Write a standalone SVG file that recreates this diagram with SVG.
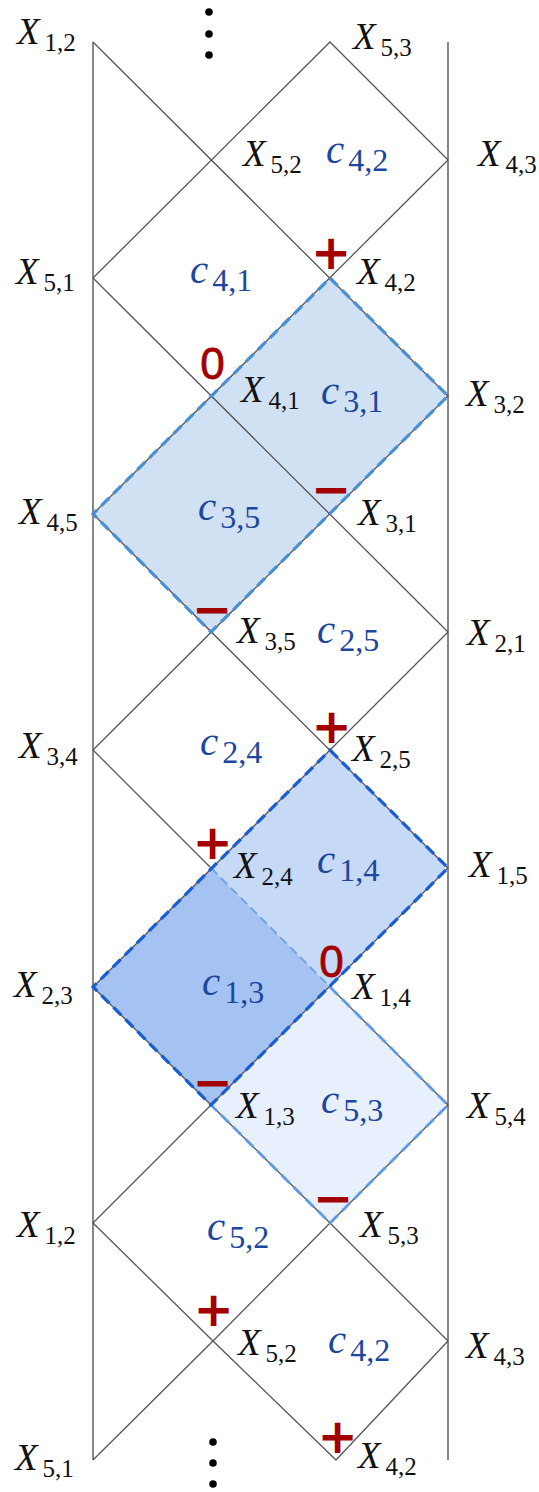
<svg xmlns="http://www.w3.org/2000/svg" width="539" height="1492" viewBox="0 0 539 1492">
<style>
.bd{fill:none;stroke:#6a6a6a;stroke-width:1.6}
.ln{fill:none;stroke:#555;stroke-width:1.3;stroke-linejoin:miter}
.x{font-family:"Liberation Serif",serif;font-size:37px;font-style:italic;fill:#111}
.xs{font-style:normal;font-size:25px}
.c{font-family:"Liberation Serif",serif;font-size:41px;font-style:italic;fill:#1c469f}
.cs{font-style:normal;font-size:32px}
.pm{font-family:"DejaVu Sans",sans-serif;font-weight:bold;font-size:48px;fill:#a30000;text-anchor:middle;dominant-baseline:central}
.z{font-family:"Liberation Sans",sans-serif;font-size:44px;fill:#a30000;stroke:#a30000;stroke-width:0.8;text-anchor:middle;dominant-baseline:central}
.dot{fill:#000}
</style>
<rect width="539" height="1492" fill="#fff"/>
<g id="regions">
<polygon id="r35" points="330,278 448,396 211,632 93,514" fill="#cfe1f3"/>
<polygon id="r14" points="330,750 448,868 330,987 211,868" fill="#c6d9f6"/>
<polygon id="r13" points="211,868 330,987 211,1105 93,987" fill="#a5c3f2"/>
<polygon id="r53" points="330,987 448,1105 330,1223 211,1105" fill="#e8f0fd"/>
</g>
<g id="connectors">
<line class="bd" x1="93" y1="42" x2="93" y2="1460"/>
<line class="bd" x1="448" y1="42" x2="448" y2="1460"/>
<polyline class="ln" points="93,42 448,396 93,750 211,868"/>
<polyline class="ln" points="330,987 448,1105 330,1223 213,1341 93,1460"/>
<polyline class="ln" points="93,278 330,42 448,160 93,514 448,868 93,1223 213,1341 336,1460 448,1341 330,1223 211,1105 93,987 448,632 93,278"/>
<polygon points="330,278 448,396 211,632 93,514" fill="none" stroke="#4a8ed4" stroke-width="3.2" stroke-dasharray="11 6"/>
<line x1="211" y1="868" x2="330" y2="987" stroke="#6fa0ea" stroke-width="1.8" stroke-dasharray="9 5"/>
<polyline points="330,987 448,1105 330,1223 211,1105" fill="none" stroke="#5f9ae6" stroke-width="2.8" stroke-dasharray="11 6"/>
<polygon points="330,750 448,868 211,1105 93,987" fill="none" stroke="#1a5cd2" stroke-width="3.2" stroke-dasharray="11 6"/>
</g>
<g id="dots">
<circle class="dot" cx="209" cy="12" r="3.8"/>
<circle class="dot" cx="209" cy="34" r="3.8"/>
<circle class="dot" cx="209" cy="55" r="3.8"/>
<circle class="dot" cx="213" cy="1442" r="3.8"/>
<circle class="dot" cx="213" cy="1463" r="3.8"/>
<circle class="dot" cx="213" cy="1484" r="3.8"/>
</g>
<g id="vertex-labels">
<text id="n-x12a" class="x" x="17" y="44">X<tspan class="xs" dx="5" dy="7">1,2</tspan></text>
<text id="n-x53a" class="x" x="353" y="49">X<tspan class="xs" dx="5" dy="7">5,3</tspan></text>
<text id="n-x52a" class="x" x="243" y="166">X<tspan class="xs" dx="5" dy="7">5,2</tspan></text>
<text id="n-x43a" class="x" x="478" y="166">X<tspan class="xs" dx="5" dy="7">4,3</tspan></text>
<text id="n-x51a" class="x" x="16" y="284">X<tspan class="xs" dx="5" dy="7">5,1</tspan></text>
<text id="n-x42a" class="x" x="357" y="284">X<tspan class="xs" dx="5" dy="7">4,2</tspan></text>
<text id="n-x41" class="x" x="241" y="402">X<tspan class="xs" dx="5" dy="7">4,1</tspan></text>
<text id="n-x32" class="x" x="466" y="406">X<tspan class="xs" dx="5" dy="7">3,2</tspan></text>
<text id="n-x45" class="x" x="19" y="524">X<tspan class="xs" dx="5" dy="7">4,5</tspan></text>
<text id="n-x31" class="x" x="358" y="525">X<tspan class="xs" dx="5" dy="7">3,1</tspan></text>
<text id="n-x35" class="x" x="237" y="643">X<tspan class="xs" dx="5" dy="7">3,5</tspan></text>
<text id="n-x21" class="x" x="467" y="645">X<tspan class="xs" dx="5" dy="7">2,1</tspan></text>
<text id="n-x34" class="x" x="19" y="758">X<tspan class="xs" dx="5" dy="7">3,4</tspan></text>
<text id="n-x25" class="x" x="352" y="761">X<tspan class="xs" dx="5" dy="7">2,5</tspan></text>
<text id="n-x24" class="x" x="234" y="878">X<tspan class="xs" dx="5" dy="7">2,4</tspan></text>
<text id="n-x15" class="x" x="469" y="877">X<tspan class="xs" dx="5" dy="7">1,5</tspan></text>
<text id="n-x23" class="x" x="14" y="997">X<tspan class="xs" dx="5" dy="7">2,3</tspan></text>
<text id="n-x14" class="x" x="352" y="999">X<tspan class="xs" dx="5" dy="7">1,4</tspan></text>
<text id="n-x13" class="x" x="236" y="1118">X<tspan class="xs" dx="5" dy="7">1,3</tspan></text>
<text id="n-x54" class="x" x="467" y="1118">X<tspan class="xs" dx="5" dy="7">5,4</tspan></text>
<text id="n-x12b" class="x" x="17" y="1237">X<tspan class="xs" dx="5" dy="7">1,2</tspan></text>
<text id="n-x53b" class="x" x="360" y="1237">X<tspan class="xs" dx="5" dy="7">5,3</tspan></text>
<text id="n-x52b" class="x" x="238" y="1355">X<tspan class="xs" dx="5" dy="7">5,2</tspan></text>
<text id="n-x43b" class="x" x="466" y="1358">X<tspan class="xs" dx="5" dy="7">4,3</tspan></text>
<text id="n-x51b" class="x" x="15" y="1470">X<tspan class="xs" dx="5" dy="7">5,1</tspan></text>
<text id="n-x42b" class="x" x="358" y="1468">X<tspan class="xs" dx="5" dy="7">4,2</tspan></text>
</g>
<g id="cell-labels">
<text id="n-c42a" class="c" x="326" y="163">c<tspan class="cs" dx="4" dy="8">4,2</tspan></text>
<text id="n-c41" class="c" x="190" y="283">c<tspan class="cs" dx="4" dy="8">4,1</tspan></text>
<text id="n-c31" class="c" x="321" y="404">c<tspan class="cs" dx="4" dy="8">3,1</tspan></text>
<text id="n-c35" class="c" x="198" y="520">c<tspan class="cs" dx="4" dy="8">3,5</tspan></text>
<text id="n-c25" class="c" x="317" y="643">c<tspan class="cs" dx="4" dy="8">2,5</tspan></text>
<text id="n-c24" class="c" x="200" y="755">c<tspan class="cs" dx="4" dy="8">2,4</tspan></text>
<text id="n-c14" class="c" x="317" y="873">c<tspan class="cs" dx="4" dy="8">1,4</tspan></text>
<text id="n-c13" class="c" x="202" y="995">c<tspan class="cs" dx="4" dy="8">1,3</tspan></text>
<text id="n-c53" class="c" x="321" y="1113">c<tspan class="cs" dx="4" dy="8">5,3</tspan></text>
<text id="n-c52" class="c" x="207" y="1240">c<tspan class="cs" dx="4" dy="8">5,2</tspan></text>
<text id="n-c42b" class="c" x="328" y="1353">c<tspan class="cs" dx="4" dy="8">4,2</tspan></text>
</g>
<g id="signs">
<text class="pm" x="331" y="252">+</text>
<text class="z" x="212.5" y="363">0</text>
<text class="pm" x="331" y="489">−</text>
<text class="pm" x="212" y="609">−</text>
<text class="pm" x="331.5" y="726">+</text>
<text class="pm" x="212.5" y="842">+</text>
<text class="z" x="331.5" y="961">0</text>
<text class="pm" x="212.5" y="1082">−</text>
<text class="pm" x="333" y="1198">−</text>
<text class="pm" x="213.5" y="1309">+</text>
<text class="pm" x="337.5" y="1436">+</text>
</g>
</svg>
